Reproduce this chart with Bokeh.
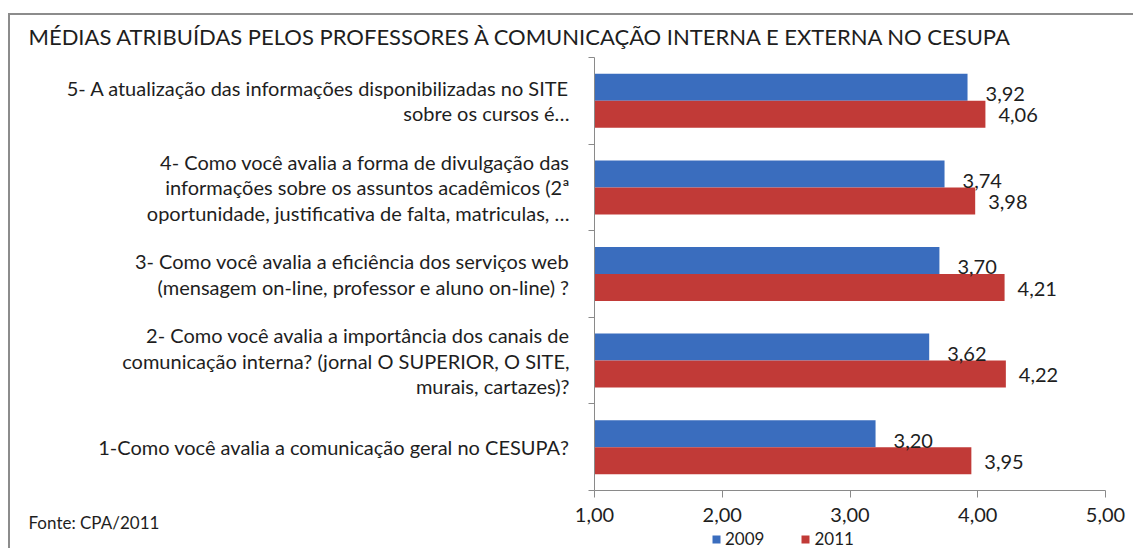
from bokeh.plotting import figure
from bokeh.models import ColumnDataSource, FixedTicker, Legend, LegendItem, Label
from bokeh.transform import dodge
from bokeh.core.properties import value
from bokeh.embed import file_html
from bokeh.resources import INLINE

# ---------------- data ----------------
questions = [
    "1-Como você avalia a comunicação geral no CESUPA?",
    "2- Como você avalia a importância dos canais de\ncomunicação interna? (jornal O SUPERIOR, O SITE,\nmurais, cartazes)?",
    "3- Como você avalia a eficiência dos serviços web\n(mensagem on-line, professor e aluno on-line) ?",
    "4- Como você avalia a forma de divulgação das\ninformações sobre os assuntos acadêmicos (2ª\noportunidade, justificativa de falta, matriculas, …",
    "5- A atualização das informações disponibilizadas no SITE\nsobre os cursos é…",
]
positions = [1, 2, 3, 4, 5]
v2009 = [3.20, 3.62, 3.70, 3.74, 3.92]
v2011 = [3.95, 4.22, 4.21, 3.98, 4.06]
series = ["2009", "2011"]
x_ticks = [1, 2, 3, 4, 5]
x_tick_labels = ["1,00", "2,00", "3,00", "4,00", "5,00"]
title_text = "MÉDIAS ATRIBUÍDAS PELOS PROFESSORES  À COMUNICAÇÃO INTERNA E EXTERNA  NO CESUPA"
source_text = "Fonte: CPA/2011"

# ---------------- style / layout ----------------
FONT = "Lato"
BLUE = "#3A6DBE"
RED = "#C13A37"
AXIS = "#8A8A8A"
TEXT = "#1E1E1E"

W, H = 1125, 535           # canvas size (page offset 10, 15)
X0_PX, X_UNIT = 584, 127.75  # canvas px of value 1,00 and px per unit
Y_TOP_PX, Y_UNIT = 42, 86.6  # canvas px of the top of the category band, px per category

x_lo = 1 - X0_PX / X_UNIT
x_hi = 1 + (W - X0_PX) / X_UNIT
y_hi = 5.5 + Y_TOP_PX / Y_UNIT
y_lo = 5.5 - (H - Y_TOP_PX) / Y_UNIT


def xd(px):  # canvas px -> data x
    return 1 + (px - X0_PX) / X_UNIT


def yd(py):  # canvas px -> data y
    return 5.5 - (py - Y_TOP_PX) / Y_UNIT


fmt = lambda v: f"{v:.2f}".replace(".", ",")

src = ColumnDataSource(dict(
    pos=positions, v09=v2009, v11=v2011,
    t09=[fmt(v) for v in v2009], t11=[fmt(v) for v in v2011],
))

p = figure(width=W, height=H, x_range=(x_lo, x_hi), y_range=(y_lo, y_hi),
           output_backend="svg", toolbar_location=None,
           min_border_left=0, min_border_right=0, min_border_top=0, min_border_bottom=0)
p.title.visible = False
p.outline_line_color = None
p.xgrid.visible = False
p.ygrid.visible = False
p.background_fill_color = "white"
p.border_fill_color = "white"
p.styles = {"border-top": "2px solid #8C8C8C", "border-left": "2px solid #8C8C8C",
            "margin-top": "13px", "margin-left": "8px"}

off = 0.156
bh = 0.312
r09 = p.hbar(y=dodge("pos", off, range=p.y_range), left=x_ticks[0], right="v09",
             height=bh, fill_color=BLUE, line_color=None, source=src)
r11 = p.hbar(y=dodge("pos", -off, range=p.y_range), left=x_ticks[0], right="v11",
             height=bh, fill_color=RED, line_color=None, source=src)

p.text(x="v09", y=dodge("pos", off, range=p.y_range), text="t09", source=src,
       x_offset=18, y_offset=7, text_baseline="middle", text_align="left",
       text_font=value(FONT), text_font_size="20px", text_color=TEXT)
p.text(x="v11", y=dodge("pos", -off, range=p.y_range), text="t11", source=src,
       x_offset=13, y_offset=1, text_baseline="middle", text_align="left",
       text_font=value(FONT), text_font_size="20px", text_color=TEXT)

# x axis, pinned to the bottom of the category band
xa = p.xaxis[0]
xa.fixed_location = 0.5
xa.bounds = (x_ticks[0], x_ticks[-1])
xa.ticker = FixedTicker(ticks=x_ticks)
xa.major_label_overrides = {t: l for t, l in zip(x_ticks, x_tick_labels)}
xa.axis_line_color = AXIS
xa.major_tick_line_color = AXIS
xa.major_tick_in = 0
xa.major_tick_out = 7
xa.minor_tick_line_color = None
xa.major_label_standoff = 10
xa.major_label_text_font = FONT
xa.major_label_text_font_size = "20px"
xa.major_label_text_color = TEXT

# y axis, pinned at 1,00: labels at category centres, ticks at the boundaries
ya = p.yaxis[0]
ya.fixed_location = x_ticks[0]
ya.bounds = (0.5, 5.5)
ya.ticker = FixedTicker(ticks=positions, minor_ticks=[0.5, 1.5, 2.5, 3.5, 4.5, 5.5])
ya.major_label_overrides = {pos: q for pos, q in zip(positions, questions)}
ya.axis_line_color = AXIS
ya.major_tick_line_color = None
ya.major_tick_in = 0
ya.major_tick_out = 0
ya.minor_tick_line_color = AXIS
ya.minor_tick_in = 0
ya.minor_tick_out = 6
ya.major_label_standoff = 19
ya.major_label_text_font = FONT
ya.major_label_text_font_size = "20px"
ya.major_label_text_color = TEXT
ya.major_label_text_line_height = 1.05

# title and source note
p.add_layout(Label(x=xd(18), y=yd(21), text=title_text, text_align="left",
                   text_baseline="middle", text_font=FONT, text_font_size="22px",
                   text_color=TEXT))
p.add_layout(Label(x=xd(18), y=yd(507), text=source_text, text_align="left",
                   text_baseline="middle", text_font=FONT, text_font_size="17px",
                   text_color=TEXT))

legend = Legend(items=[LegendItem(label=series[0], renderers=[r09]),
                       LegendItem(label=series[1], renderers=[r11])],
                orientation="horizontal", location=(701, 1),
                glyph_width=10, glyph_height=10, label_standoff=4, spacing=36,
                padding=0, margin=0, border_line_color=None,
                background_fill_alpha=0,
                label_text_font=FONT, label_text_font_size="17px",
                label_text_color=TEXT)
p.add_layout(legend, "center")

open("out.html", "w").write(file_html(p, INLINE))
